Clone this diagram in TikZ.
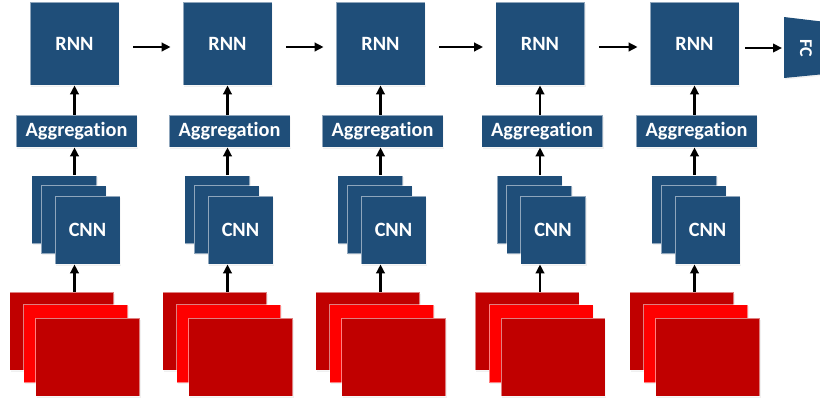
\documentclass[tikz,border=0pt]{standalone}
\usepackage{fontspec}
\setmainfont{Carlito}[Ligatures=NoCommon]
\usetikzlibrary{arrows.meta,shadows}
\definecolor{boxblue}{RGB}{31,78,121}
\definecolor{darkred}{RGB}{192,0,0}
\definecolor{brightred}{RGB}{255,0,0}
\begin{document}
\begin{tikzpicture}[x=1pt,y=-1pt,
  shad/.style={drop shadow={opacity=0.12, shadow xshift=1pt, shadow yshift=-1.5pt}},
  blk/.style={shad, fill=boxblue, draw=white, draw opacity=0.5, line width=0.8pt,
    text=white, font=\bfseries\fontsize{20.3}{24}\selectfont, inner sep=0pt},
  rnnbox/.style={blk, minimum width=89pt, minimum height=83pt},
  aggbox/.style={blk, minimum width=121pt, minimum height=32pt},
  cnnbox/.style={blk, minimum width=65pt, minimum height=68pt},
  framebox/.style={shad, draw=white, draw opacity=0.5, line width=0.8pt,
    minimum width=104pt, minimum height=78pt, inner sep=0pt},
  arr/.style={line width=2.5pt, -{Triangle[length=9pt,width=8.5pt]}},
]
\useasboundingbox (0,0) rectangle (820,400);
\foreach \i/\cx in {1/74.5,2/227.5,3/380.5,4/540,5/694.5}{
  \node[framebox, fill=darkred]   (fb\i) at (\cx-13,331)   {};
  \node[framebox, fill=brightred] (fm\i) at (\cx+1,343.5)  {};
  \node[framebox, fill=darkred]   (ff\i) at (\cx+13,357)   {};
  \node[cnnbox] (cb\i) at (\cx-10.5,209.5) {};
  \node[cnnbox] (cm\i) at (\cx-1,219.5)   {};
  \node[cnnbox] (c\i)  at (\cx+13,230)    {CNN};
  \node[aggbox] (a\i)  at (\cx+2,131)     {Aggregation};
  \node[rnnbox] (r\i)  at (\cx,43.5)      {RNN};
  \coordinate (h\i) at (\cx,47);
  \draw[arr] (fb\i.north -| r\i) -- (c\i.south -| r\i);
  \draw[arr] (cb\i.north -| r\i) -- (a\i.south -| r\i);
  \draw[arr] (a\i.north -| r\i) -- (r\i.south);
}
\foreach \i/\j in {1/2,2/3,3/4,4/5}{
  \draw[arr, shorten <=14pt, shorten >=12pt] (r\i.east |- h\i) -- (r\j.west |- h\i);
}
\begin{scope}
  \clip (0,0) rectangle (820,400);
  \fill[boxblue, shad] (784,17) -- (830,22.5) -- (830,73.5) -- (784,78) -- cycle;
\end{scope}
\node[text=white, font=\bfseries\fontsize{18}{20}\selectfont, rotate=-90, inner sep=0pt] (fc) at (806,48) {FC};
\coordinate (fcin) at (784,48);
\draw[arr, shorten <=6pt, shorten >=2pt] (r5.east |- fcin) -- (fcin);
\end{tikzpicture}
\end{document}
